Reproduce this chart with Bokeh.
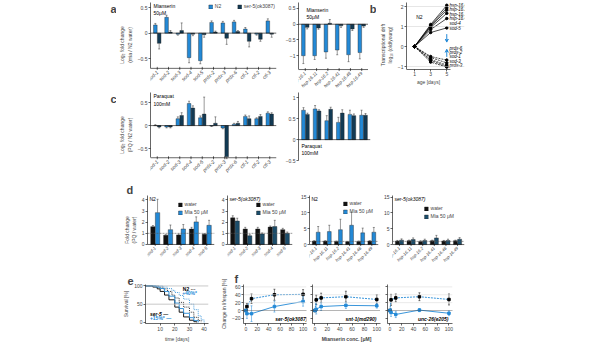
import numpy as np
from bokeh.plotting import figure
from bokeh.models import (ColumnDataSource, Range1d, FixedTicker, Label, LabelSet, Span,
                          Whisker, TeeHead, Legend, LegendItem, Arrow, VeeHead)
from bokeh.layouts import row, column
from bokeh.embed import file_html
from bokeh.resources import INLINE
from bokeh.core.properties import value

FONT = "Liberation Sans"
FS = "5px"
BLUE = "#2389d6"
NAVY = "#123a54"
TEAL = "#1b4d6b"
BLACK = "#111111"

# ---------------- data ----------------
ox_genes = ["sod-1", "sod-2", "sod-3", "sod-4", "sod-5", "prdx-2", "prdx-3", "prdx-6",
            "ctl-1", "ctl-2", "ctl-3"]
hsp_genes = ["hsp-16.1", "hsp-16.11", "hsp-16.2", "hsp-16.41", "hsp-16.48", "hsp-16.49"]
sod_genes = ["sod-1", "sod-2", "sod-3", "sod-4", "sod-5"]

a_ox_n2 = [0.16, 0.31, -0.02, -0.48, -0.54, 0.21, 0.20, 0.22, 0.08, -0.02, 0.24]
a_ox_n2_err = [0.03, 0.04, 0.02, 0.10, 0.06, 0.03, 0.03, 0.03, 0.03, 0.02, 0.04]
a_ox_ser5 = [-0.20, 0.02, 0.05, -0.02, -0.03, 0.02, -0.10, 0.03, -0.16, -0.12, -0.02]
a_ox_ser5_err = [0.11, 0.03, 0.15, 0.03, 0.05, 0.02, 0.12, 0.02, 0.11, 0.04, 0.06]
a_hsp_n2 = [-1.00, -1.00, -0.88, -0.82, -0.97, -0.90]
a_hsp_n2_err = [0.25, 0.12, 0.20, 0.15, 0.22, 0.20]
a_hsp_ser5 = [-0.10, -0.12, 0.03, -0.05, -0.15, -0.06]
a_hsp_ser5_err = [0.05, 0.04, 0.12, 0.05, 0.05, 0.04]

c_ox_n2 = [0.00, -0.03, 0.15, 0.48, 0.17, -0.01, -0.05, 0.03, 0.20, 0.15, 0.27]
c_ox_n2_err = [0.02, 0.02, 0.04, 0.05, 0.04, 0.01, 0.02, 0.02, 0.03, 0.02, 0.03]
c_ox_ser5 = [-0.03, -0.03, 0.22, 0.38, 0.25, 0.05, -0.68, 0.05, 0.15, 0.20, 0.25]
c_ox_ser5_err = [0.02, 0.02, 0.06, 0.05, 0.37, 0.14, 0.04, 0.04, 0.06, 0.04, 0.03]
c_hsp_n2 = [0.70, 0.73, 0.45, 0.41, 0.60, 0.58]
c_hsp_n2_err = [0.06, 0.08, 0.12, 0.12, 0.10, 0.12]
c_hsp_ser5 = [0.60, 0.68, 0.72, 0.63, 0.57, 0.58]
c_hsp_ser5_err = [0.03, 0.03, 0.05, 0.08, 0.04, 0.04]

b_days = [1, 3, 5]
b_up_names = ["hsp-16.41", "hsp-16.2", "hsp-16.11", "hsp-16.48", "sod-4", "sod-5"]
b_up_vals = [[0, 1.10, 2.06], [0, 1.05, 1.93], [0, 1.00, 1.82], [0, 0.95, 1.66],
             [0, 0.85, 1.40], [0, 0.70, 0.93]]
b_up_label_y = [2.05, 1.83, 1.61, 1.39, 1.15, 0.88]
b_dn_names = ["prdx-6", "prdx-2", "sod-1", "sod-3", "prdx-3"]
b_dn_vals = [[0, -0.50, -0.68], [0, -0.55, -0.82], [0, -0.65, -0.93], [0, -0.70, -1.00],
             [0, -0.78, -1.03]]
b_dn_label_y = [-0.08, -0.30, -0.52, -0.74, -0.96]

d1_water = [1.60, 0.83, 0.86, 1.39, 0.92]
d1_water_err = [0.10, 0.05, 0.08, 0.15, 0.05]
d1_mia = [2.86, 1.33, 1.39, 2.03, 1.72]
d1_mia_err = [1.2, 0.42, 0.40, 0.45, 0.45]
d2_water = [2.39, 1.39, 1.39, 1.56, 1.33]
d2_water_err = [0.19, 0.15, 0.15, 0.10, 0.12]
d2_mia = [2.11, 0.78, 0.94, 1.61, 1.00]
d2_mia_err = [0.25, 0.10, 0.10, 0.56, 0.12]
d3_water = [1.1, 1.1, 1.0, 0.9, 1.0, 1.1]
d3_water_err = [0.1, 0.1, 0.1, 0.1, 0.1, 0.1]
d3_mia = [3.9, 4.1, 4.7, 6.1, 3.7, 3.9]
d3_mia_err = [1.8, 2.0, 3.3, 4.1, 1.5, 1.5]
d4_water = [1.1, 1.2, 1.0, 1.2, 1.1, 1.2]
d4_water_err = [0.2, 0.2, 0.2, 0.2, 0.2, 0.2]
d4_mia = [1.4, 1.6, 1.3, 2.1, 1.3, 1.7]
d4_mia_err = [0.4, 0.5, 0.4, 0.8, 0.4, 0.5]

e_s5w_t = [0, 5, 8, 10, 13, 16, 20, 23, 26, 30, 33, 35]
e_s5w_s = [100, 97, 92, 85, 75, 62, 42, 28, 15, 6, 2, 0]
e_s5m_t = [0, 7, 10, 13, 16, 20, 23, 26, 30, 33, 36]
e_s5m_s = [100, 97, 93, 85, 72, 53, 38, 25, 13, 5, 0]
e_n2w_t = [0, 9, 12, 15, 18, 20, 23, 26, 30, 33, 36, 38]
e_n2w_s = [100, 97, 92, 85, 75, 67, 55, 42, 28, 14, 5, 0]
e_n2m_t = [0, 12, 15, 18, 20, 23, 26, 30, 33, 36, 38, 40]
e_n2m_s = [100, 97, 93, 88, 82, 74, 64, 50, 35, 18, 7, 0]

f_conc = [0, 2, 10, 50, 100]
f_names = ["ser-5(ok3087)", "snt-1(md290)", "unc-26(e205)"]
f_ctrl = [[0, 10, 30, 40, 41], [0, 27, 32, 35, 28], [0, 27, 32, 35, 28]]
f_ctrl_err = [[0, 8, 12, 14, 12], [0, 12, 12, 14, 12], [0, 14, 10, 10, 14]]
f_mut = [[0, -8, -8, 10, 23], [0, 3, 10, 13, 12], [0, -5, -10, 1, -7]]
f_mut_err = [[0, 12, 20, 14, 12], [0, 12, 10, 8, 6], [0, 10, 8, 4, 6]]


# ---------------- helpers ----------------
def mkfig(w, h, xr, yr, bl, br, bt, bb):
    p = figure(width=w, height=h, x_range=Range1d(*xr), y_range=Range1d(*yr),
               output_backend="svg", toolbar_location=None,
               min_border_left=bl, min_border_right=br, min_border_top=bt,
               min_border_bottom=bb)
    p.outline_line_color = None
    p.grid.visible = False
    for ax in p.axis:
        ax.major_label_text_font_size = FS
        ax.major_label_text_font = FONT
        ax.axis_label_text_font_size = FS
        ax.axis_label_text_font = FONT
        ax.axis_label_text_font_style = "normal"
        ax.major_tick_out = 2
        ax.major_tick_in = 0
        ax.minor_tick_out = 0
        ax.minor_tick_in = 0
        ax.axis_line_width = 0.6
        ax.major_tick_line_width = 0.6
        ax.major_label_standoff = 1
        ax.axis_label_standoff = 2
    return p


def set_letter(p, text, offset):
    p.title.text = text
    p.title.align = "left"
    p.title.offset = offset
    p.title.standoff = 0
    p.title.text_font = FONT
    p.title.text_font_size = "11px"
    p.title.text_font_style = "bold"


def letter_fig(w, h, text, bt, bb):
    """Axis-less figure (same top/bottom borders as its row) carrying a panel letter."""
    p = figure(width=w, height=h, output_backend="svg", toolbar_location=None,
               x_axis_type=None, y_axis_type=None, x_range=Range1d(0, 1),
               y_range=Range1d(0, 1), min_border_left=0, min_border_right=0,
               min_border_top=bt, min_border_bottom=bb)
    p.outline_line_color = None
    p.grid.visible = False
    p.add_layout(Label(x=1, y=1, text=text, text_font=FONT, text_font_size="11px",
                       text_font_style="bold", text_align="right", text_baseline="top"))
    return p


def bars(p, vals, errs, off, color, width=0.32):
    xs = [i + off for i in range(len(vals))]
    hi = [v + (e if v >= 0 else -e) for v, e in zip(vals, errs)]
    src = ColumnDataSource(dict(x=xs, top=vals, lo=vals, hi=hi))
    r = p.vbar(x="x", top="top", bottom=0, width=width, fill_color=color,
               line_color="#222222", line_width=0.4, source=src)
    p.add_layout(Whisker(base="x", upper="hi", lower="lo", source=src, line_width=0.5,
                         line_color="#333333",
                         upper_head=TeeHead(size=2, line_width=0.5, line_color="#333333"),
                         lower_head=None))
    return r


def gene_axis(p, genes, ymin, ymax, size=FS, angle=0.78):
    """Category baseline at the bottom of the data range with rotated gene names below
    it (inside the frame, so no border space is reserved)."""
    p.xaxis.visible = False
    p.yaxis.bounds = (ymin, ymax)
    n = len(genes)
    p.add_layout(Span(location=ymin, dimension="width", line_color="black", line_width=0.6))
    src = ColumnDataSource(dict(x=list(range(n)), y=[ymin] * n, t=genes))
    p.scatter("x", "y", source=src, marker="dash", angle=np.pi / 2, size=3,
              line_color="black", line_width=0.6)
    p.add_layout(LabelSet(x="x", y="y", y_offset=-3, text="t", source=src,
                          angle=angle, text_align="right", text_baseline="middle",
                          text_font=value(FONT), text_font_size=value(size),
                          text_font_style="italic"))


def zero(p, dash="solid", color="black", width=0.6):
    p.add_layout(Span(location=0, dimension="width", line_color=color, line_width=width,
                      line_dash=dash))


def top_label(p, text, x, y, size=FS, style="normal", color="black",
              align="left", baseline="top"):
    p.add_layout(Label(x=x, y=y, x_units="screen", y_units="data",
                       text=text, text_font=FONT, text_font_size=size,
                       text_font_style=style, text_color=color, text_align=align,
                       text_baseline=baseline))


def bot_label(p, text, x, y, size=FS, style="normal", color="black", align="left",
              baseline="top"):
    p.add_layout(Label(x=x, y=y, x_units="screen", y_units="screen", text=text,
                       text_font=FONT, text_font_size=size, text_font_style=style,
                       text_color=color, text_align=align, text_baseline=baseline))


def small_legend(p, items, loc, orientation="vertical", style="normal", margin=0):
    lg = Legend(items=items, location=loc, orientation=orientation,
                label_text_font=FONT, label_text_font_size=FS,
                label_text_font_style=style,
                glyph_width=5, glyph_height=5, label_height=5, label_standoff=2,
                spacing=2, padding=0, margin=margin, border_line_color=None,
                background_fill_alpha=0)
    p.add_layout(lg)


# ---------------- row A: height 88, all frames page y 10..95 ----------------
HA, BTA, BBA = 88, 2, 1
la = letter_fig(116, HA, "a", BTA, BBA)

pa1 = mkfig(166, HA, (-0.6, 10.6), (-1.065, 0.6), 28, 6, BTA, BBA)
gene_axis(pa1, ox_genes, -0.69, 0.6)
pa1.yaxis.ticker = FixedTicker(ticks=[-0.5, 0.0, 0.5])
pa1.yaxis.axis_label = "Log\u2082 fold change\n(mia / N2 water)"
zero(pa1)
ra_n2 = bars(pa1, a_ox_n2, a_ox_n2_err, -0.17, BLUE)
ra_s5 = bars(pa1, a_ox_ser5, a_ox_ser5_err, 0.17, NAVY)
top_label(pa1, "Mianserin\n50\u03bcM", 3, 0.6)
small_legend(pa1, [LegendItem(label="N2", renderers=[ra_n2]),
                   LegendItem(label="ser-5(ok3087)", renderers=[ra_s5])],
             "top_right", orientation="horizontal", margin=1)

pa2 = mkfig(86, HA, (-0.6, 5.6), (-2.01, 0.69), 14, 0, BTA, BBA)
gene_axis(pa2, hsp_genes, -1.44, 0.69, size="4.6px")
pa2.yaxis.ticker = FixedTicker(ticks=[-1.0, -0.5, 0.0, 0.5])
zero(pa2)
bars(pa2, a_hsp_n2, a_hsp_n2_err, -0.17, BLUE)
bars(pa2, a_hsp_ser5, a_hsp_ser5_err, 0.17, NAVY)
top_label(pa2, "Mianserin\n50\u03bcM", 8, 0.56)

lb = letter_fig(8, HA, "b", BTA, BBA)

B_YMIN = -1.17
pb = mkfig(94, HA, (0, 7.2), (-2.05, 2.2), 23, 6, BTA, BBA)
pb.xaxis.fixed_location = B_YMIN
pb.xaxis.ticker = FixedTicker(ticks=[1, 3, 5])
pb.xaxis.bounds = (0, 5.4)
pb.xaxis.major_label_standoff = 0
pb.xaxis.axis_label_standoff = 0
pb.yaxis.bounds = (B_YMIN, 2.2)
pb.yaxis.ticker = FixedTicker(ticks=[-1, 0, 1, 2])
pb.xaxis.axis_label = "age [days]"
pb.yaxis.axis_label = "Transcriptional drift\nlog\u2081\u2080 (old/young)"
for yv in [-1, 1, 2]:
    pb.add_layout(Span(location=yv, dimension="width", line_color="#cccccc",
                       line_width=0.5))
for name, vals, ly in zip(b_up_names, b_up_vals, b_up_label_y):
    pb.line(b_days, vals, line_color="black", line_width=0.7)
    pb.scatter(b_days, vals, size=2.5, color="black")
    pb.text([5.35], [ly], text=[name], text_font=value(FONT),
            text_font_size=value("4.5px"), text_baseline="middle",
            text_font_style="italic")
for name, vals, ly in zip(b_dn_names, b_dn_vals, b_dn_label_y):
    pb.line(b_days, vals, line_color="black", line_width=0.7, line_dash="2 1")
    pb.scatter(b_days, vals, size=2.5, color="black")
    pb.text([5.35], [ly], text=[name], text_font=value(FONT),
            text_font_size=value("4.5px"), text_baseline="middle",
            text_font_style="italic")
pb.add_layout(Arrow(x_start=5, y_start=0.62, x_end=5, y_end=0.22, line_color=BLUE,
                    line_width=1, end=VeeHead(size=3, line_color=BLUE, fill_color=BLUE)))
pb.add_layout(Arrow(x_start=5, y_start=-0.52, x_end=5, y_end=-0.14, line_color=BLUE,
                    line_width=1, end=VeeHead(size=3, line_color=BLUE, fill_color=BLUE)))
pb.text([1.2], [1.5], text=["N2"], text_font=value(FONT), text_font_size=value("5px"),
        text_baseline="middle")

# ---------------- row C: height 90, frames page y 100..185 ----------------
HC, BTC, BBC = 90, 4, 1
lc_ = letter_fig(116, HC, "c", BTC, BBC)

pc1 = mkfig(166, HC, (-0.6, 10.6), (-1.13, 0.72), 28, 6, BTC, BBC)
gene_axis(pc1, ox_genes, -0.7, 0.72)
pc1.yaxis.ticker = FixedTicker(ticks=[-0.5, 0.0, 0.5])
pc1.yaxis.axis_label = "Log\u2082 fold change\n(PQ / N2 water)"
zero(pc1)
bars(pc1, c_ox_n2, c_ox_n2_err, -0.17, BLUE)
bars(pc1, c_ox_ser5, c_ox_ser5_err, 0.17, NAVY)
top_label(pc1, "Paraquat\n100mM", 3, 0.70)

pc2 = mkfig(92, HC, (-0.6, 5.6), (-0.9, 1.12), 14, 4, BTC, BBC)
pc2.xaxis.visible = False
pc2.yaxis.bounds = (-0.5, 1.12)
pc2.yaxis.ticker = FixedTicker(ticks=[-0.5, 0.0, 0.5, 1.0])
zero(pc2)
bars(pc2, c_hsp_n2, c_hsp_n2_err, -0.17, BLUE)
bars(pc2, c_hsp_ser5, c_hsp_ser5_err, 0.17, NAVY)
top_label(pc2, "Paraquat\n100mM", 3, -0.08)


# ---------------- row D: height 87, frames page y 203..272 ----------------
HD, BTD, BBD = 87, 17, 1


def dpanel(w, genes, water, water_err, mia, mia_err, mia_color, ymax, ymin_ext, ticks,
           bl, br, title, title_style, margin, lsize="4.5px", ylabel=None):
    p = mkfig(w, HD, (-0.6, len(genes) - 0.4), (ymin_ext, ymax), bl, br, BTD, BBD)
    gene_axis(p, genes, 0, ymax, size=lsize)
    p.yaxis.ticker = FixedTicker(ticks=ticks)
    if ylabel:
        p.yaxis.axis_label = ylabel
    p.add_layout(Span(location=1, dimension="width", line_color="#555555",
                      line_width=0.6, line_dash="2 1"))
    rw = bars(p, water, water_err, -0.18, BLACK, width=0.34)
    rm = bars(p, mia, mia_err, 0.18, mia_color, width=0.34)
    top_label(p, title, 2, ymax, style=title_style)
    small_legend(p, [LegendItem(label="water", renderers=[rw]),
                     LegendItem(label="Mia 50 \u03bcM", renderers=[rm])], "top_right",
                 margin=margin)
    return p


ld = letter_fig(120, HD, "", BTD, BBD)
pd1 = dpanel(98, sod_genes, d1_water, d1_water_err, d1_mia, d1_mia_err, BLUE, 4.4, -1.8,
             [0, 1, 2, 3, 4], 26, 4, "N2", "normal", 6,
             ylabel="Fold change\n(PQ / water)")
set_letter(pd1, "d", -21)
pd2 = dpanel(79, sod_genes, d2_water, d2_water_err, d2_mia, d2_mia_err, TEAL, 4.4, -1.8,
             [0, 1, 2, 3, 4], 8, 5, "ser-5(ok3087)", "italic", 6)
pd3 = dpanel(83, hsp_genes, d3_water, d3_water_err, d3_mia, d3_mia_err, BLUE, 15.5, -6.3,
             [0, 5, 10, 15], 12, 2, "N2", "normal", 5, lsize="4.3px")
pd4 = dpanel(90, hsp_genes, d4_water, d4_water_err, d4_mia, d4_mia_err, TEAL, 15.5, -6.3,
             [0, 5, 10, 15], 9, 6, "ser-5(ok3087)", "italic", 10, lsize="4.3px")

# ---------------- row E/F: height 79, frames page y 292..338 ----------------
HE, BTE, BBE = 79, 19, 14
le = letter_fig(120, HE, "", BTE, BBE)
pe = mkfig(98, HE, (0, 43), (-3, 104), 21, 10, BTE, BBE)
set_letter(pe, "e", -18)
pe.xaxis.ticker = FixedTicker(ticks=[10, 20, 30, 40])
pe.yaxis.ticker = FixedTicker(ticks=[0, 50, 100])
pe.xaxis.axis_label = "time [days]"
pe.yaxis.axis_label = "Survival [%]"
for yv in [50, 100]:
    pe.add_layout(Span(location=yv, dimension="width", line_color="#bbbbbb", line_width=0.8))
pe.step(e_n2w_t, e_n2w_s, mode="after", line_color="black", line_width=0.8, line_dash="1 1")
pe.step(e_n2m_t, e_n2m_s, mode="after", line_color=BLUE, line_width=0.8, line_dash="1 1")
pe.step(e_s5w_t, e_s5w_s, mode="after", line_color="black", line_width=0.9)
pe.step(e_s5m_t, e_s5m_s, mode="after", line_color=BLUE, line_width=0.9)
pe.text([25.5], [93], text=["N2 \u00b7\u00b7\u00b7"], text_font=value(FONT),
        text_font_size=value("5px"), text_font_style="bold", text_baseline="middle")
pe.text([25], [81], text=["+40%*"], text_font=value(FONT), text_color=BLUE,
        text_font_size=value("5px"), text_font_style="bold", text_baseline="middle")
pe.text([3], [24], text=["ser-5 \u2014"], text_font=value(FONT),
        text_font_size=value("5px"), text_font_style="bold italic", text_baseline="middle")
pe.text([3], [11], text=["+15%* \u2014"], text_font=value(FONT), text_color=BLUE,
        text_font_size=value("5px"), text_font_style="bold", text_baseline="middle")

fpanels = []
f_geom = [(92, 20, 4), (75, 2, 5), (77, 2, 10)]
for k in range(3):
    w, bl, br = f_geom[k]
    p = mkfig(w, HE, (-4, 106), (-33, 66), bl, br, BTE, BBE)
    p.xaxis.ticker = FixedTicker(ticks=[0, 20, 40, 60, 80, 100])
    p.yaxis.ticker = FixedTicker(ticks=[-20, 0, 20, 40, 60])
    if k > 0:
        p.yaxis.major_label_text_color = None
    for yv in [20, 40, 60]:
        p.add_layout(Span(location=yv, dimension="width", line_color="#dddddd",
                          line_width=0.6))
    zero(p, dash="1 1", color="#444444", width=0.8)
    lo_c = [v - e for v, e in zip(f_ctrl[k], f_ctrl_err[k])]
    hi_c = [v + e for v, e in zip(f_ctrl[k], f_ctrl_err[k])]
    lo_m = [v - e for v, e in zip(f_mut[k], f_mut_err[k])]
    hi_m = [v + e for v, e in zip(f_mut[k], f_mut_err[k])]
    sc = ColumnDataSource(dict(x=f_conc, y=f_ctrl[k], lo=lo_c, hi=hi_c))
    sm = ColumnDataSource(dict(x=f_conc, y=f_mut[k], lo=lo_m, hi=hi_m))
    p.add_layout(Whisker(base="x", upper="hi", lower="lo", source=sc, line_color="black",
                         line_width=0.5, upper_head=TeeHead(size=2, line_width=0.5),
                         lower_head=TeeHead(size=2, line_width=0.5)))
    p.add_layout(Whisker(base="x", upper="hi", lower="lo", source=sm, line_color=BLUE,
                         line_width=0.5,
                         upper_head=TeeHead(size=2, line_width=0.5, line_color=BLUE),
                         lower_head=TeeHead(size=2, line_width=0.5, line_color=BLUE)))
    lc = p.line("x", "y", source=sc, line_color=BLUE, line_width=0.9, line_dash="2 1")
    mc = p.scatter("x", "y", source=sc, marker="square", size=2.5, color="black")
    lm = p.line("x", "y", source=sm, line_color=BLUE, line_width=0.9)
    mm = p.scatter("x", "y", source=sm, marker="square", size=2.5, color=BLUE)
    bot_label(p, f_names[k], (w - bl - br) - 4, 2, style="bold italic", align="right",
              baseline="bottom")
    if k == 0:
        p.yaxis.axis_label = "Change in lifespan [%]"
        small_legend(p, [LegendItem(label="Mia, N2 control", renderers=[lc, mc]),
                         LegendItem(label="Mia, mutant", renderers=[lm, mm])],
                     (4, 47), orientation="horizontal")
        set_letter(p, "f", -9)
    if k == 1:
        p.xaxis.axis_label = "Mianserin conc. [\u03bcM]"
        p.xaxis.axis_label_text_font_style = "bold"
    fpanels.append(p)

layout = column(
    row(la, pa1, pa2, lb, pb),
    row(lc_, pc1, pc2),
    row(ld, pd1, pd2, pd3, pd4),
    row(le, pe, *fpanels),
)

open("out.html", "w").write(file_html(layout, INLINE))
